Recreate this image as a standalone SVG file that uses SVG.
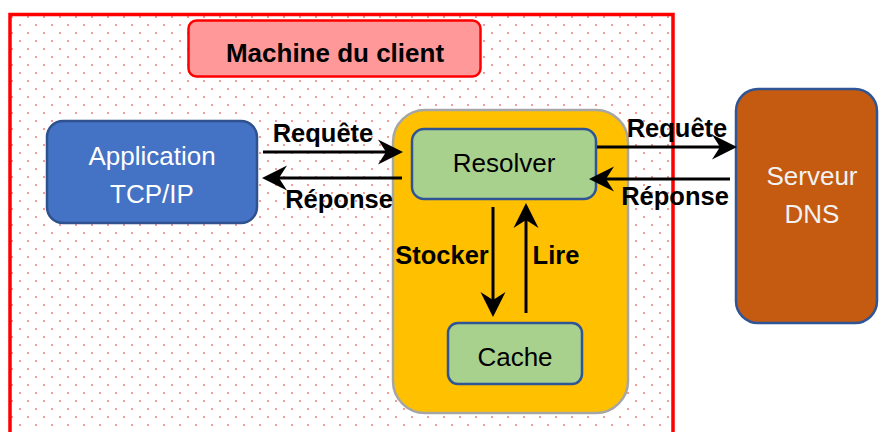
<svg xmlns="http://www.w3.org/2000/svg" width="880" height="432" viewBox="0 0 880 432">
  <defs>
    <pattern id="dots" x="0" y="0" width="16" height="16" patternUnits="userSpaceOnUse">
      <rect x="11" y="0" width="2" height="2" fill="#f59a9a"/>
      <rect x="3" y="8" width="2" height="2" fill="#f59a9a"/>
    </pattern>
    <marker id="arr" markerUnits="userSpaceOnUse" markerWidth="30" markerHeight="30" viewBox="-28 -15 30 30" refX="-17" refY="0" orient="auto">
      <path d="M0,0 L-25,-12.5 L-17,0 L-25,12.5 Z" fill="#000"/>
    </marker>
    <style>
      .node { font-family: "Liberation Sans", Arial, sans-serif; font-size: 26px; text-anchor: middle; }
      .lbl { font-family: "Liberation Sans", Arial, sans-serif; font-size: 25.5px; font-weight: bold; text-anchor: middle; fill: #000; }
      .title { font-size: 26px; }
      .conn { stroke: #000; stroke-width: 3; fill: none; marker-end: url(#arr); }
    </style>
  </defs>
  <rect x="0" y="0" width="880" height="432" fill="#fff"/>

  <g id="machine">
    <rect x="10" y="14.5" width="663" height="440" fill="#fff" stroke="none"/>
    <rect x="10" y="14.5" width="663" height="440" fill="url(#dots)" stroke="#ff0000" stroke-width="3.5"/>
  </g>

  <g id="machine-title">
    <rect x="188.5" y="20.5" width="292" height="56" rx="8" fill="#ff9999" stroke="#ff0000" stroke-width="2.5"/>
    <text class="lbl title" x="335" y="62">Machine du client</text>
  </g>

  <g id="application">
    <rect x="47" y="121" width="210" height="102" rx="16" fill="#4472c4" stroke="#2f528f" stroke-width="2.5"/>
    <text class="node" x="152" y="165" fill="#fff">Application</text>
    <text class="node" x="152" y="203" fill="#fff">TCP/IP</text>
  </g>

  <g id="resolver-container">
    <rect x="393" y="110" width="235" height="303" rx="32" fill="#ffc000" stroke="#a6a6a6" stroke-width="2.5"/>
  </g>

  <g id="resolver">
    <rect x="412" y="129" width="184" height="70" rx="12" fill="#a9d18e" stroke="#2f5597" stroke-width="2.5"/>
    <text class="node" x="504" y="172" fill="#000">Resolver</text>
  </g>

  <g id="cache">
    <rect x="448" y="323" width="134" height="61" rx="10" fill="#a9d18e" stroke="#2f5597" stroke-width="2.5"/>
    <text class="node" x="515" y="366" fill="#000">Cache</text>
  </g>

  <g id="serveur-dns">
    <rect x="736" y="89" width="141" height="234" rx="22" fill="#c55a11" stroke="#2f5597" stroke-width="2.5"/>
    <text class="node" x="812" y="185" fill="#f2f2f2">Serveur</text>
    <text class="node" x="812" y="223" fill="#f2f2f2">DNS</text>
  </g>

  <g id="connectors">
    <line class="conn" x1="263" y1="152" x2="386" y2="152"/>
    <line class="conn" x1="402" y1="178" x2="279" y2="178"/>
    <line class="conn" x1="597" y1="147" x2="720" y2="147"/>
    <line class="conn" x1="730" y1="179" x2="606" y2="179"/>
    <line class="conn" x1="493" y1="207" x2="493" y2="300"/>
    <line class="conn" x1="526" y1="313" x2="526" y2="220"/>
    <text class="lbl" x="323" y="142">Requête</text>
    <text class="lbl" x="339" y="208">Réponse</text>
    <text class="lbl" x="677" y="137">Requête</text>
    <text class="lbl" x="675" y="205">Réponse</text>
    <text class="lbl" x="442" y="264">Stocker</text>
    <text class="lbl" x="556" y="264">Lire</text>
  </g>
</svg>
